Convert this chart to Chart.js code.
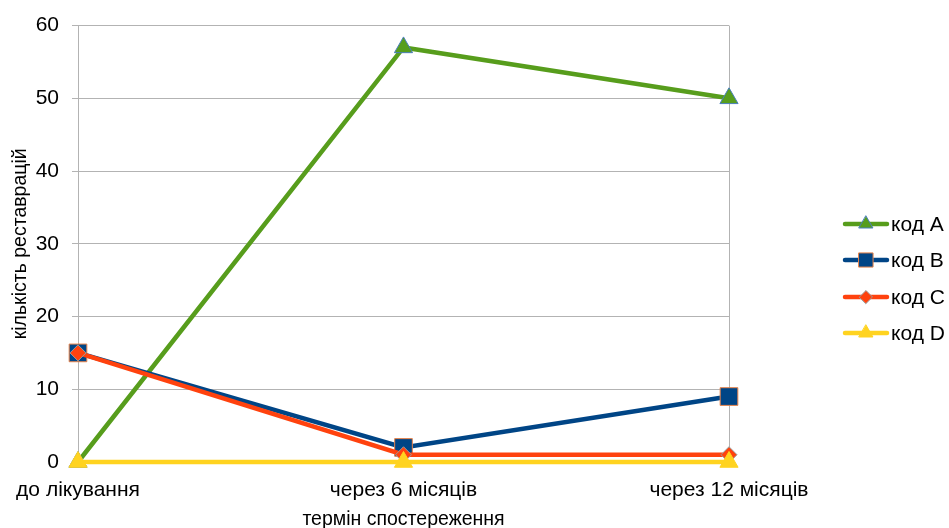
<!DOCTYPE html>
<html>
<head>
<meta charset="utf-8">
<script src="https://cdn.jsdelivr.net/npm/chart.js@4"></script>
<style>
  html, body { margin: 0; padding: 0; background: #fff; }
  #wrap { width: 949px; height: 528px; position: relative; }
</style>
</head>
<body>
<div id="wrap"><canvas id="c" width="949" height="528"></canvas></div>
<script>
// Observation periods
const periods = ['до лікування', 'через 6 місяців', 'через 12 місяців'];

// Number of restorations per code
const codeA = [0, 57, 50];
const codeB = [15, 2, 9];
const codeC = [15, 1, 1];
const codeD = [0, 0, 0];

const seriesNames = ['код A', 'код B', 'код C', 'код D'];

const yTitle = 'кількість реставрацій';
const xTitle = 'термін спостереження';

const FONT = "'Liberation Sans', Arial, sans-serif";

// Line and marker styling per series (radius in the plot, size in the legend)
const styles = [
  { line: '#579d1c', fill: '#579d1c', border: '#4a7ebb', shape: 'triangle', r: 10.5, lr: 8 },
  { line: '#004586', fill: '#004586', border: '#e8834a', shape: 'rect', r: 12.5, lr: 10 },
  { line: '#ff420e', fill: '#ff420e', border: '#9a9a9a', shape: 'rectRot', r: 8, lr: 6.5 },
  { line: '#ffd320', fill: '#ffd320', border: '#ffd320', shape: 'triangle', r: 10.5, lr: 8 }
];

const values = [codeA, codeB, codeC, codeD];

const datasets = values.map((v, i) => ({
  label: seriesNames[i],
  data: v,
  borderColor: styles[i].line,
  backgroundColor: styles[i].fill,
  borderWidth: 4.5,
  pointStyle: styles[i].shape,
  pointRadius: styles[i].r,
  pointHoverRadius: styles[i].r,
  pointBackgroundColor: styles[i].fill,
  pointBorderColor: styles[i].border,
  pointBorderWidth: 1,
  tension: 0,
  clip: false,
  order: 3 - i
}));

// Legend: a short line with the series marker in the middle, then the name
const sideLegend = {
  id: 'sideLegend',
  afterDraw(chart) {
    const ctx = chart.ctx;
    const x0 = 845, x1 = 887, tx = 891;
    const ys = [224, 260, 297, 333];
    chart.data.datasets.forEach((ds, i) => {
      const y = ys[i];
      const st = styles[i];
      ctx.save();
      ctx.strokeStyle = ds.borderColor;
      ctx.lineWidth = 4.5;
      ctx.lineCap = 'round';
      ctx.beginPath();
      ctx.moveTo(x0, y);
      ctx.lineTo(x1, y);
      ctx.stroke();
      ctx.fillStyle = ds.pointBackgroundColor;
      ctx.strokeStyle = ds.pointBorderColor;
      ctx.lineWidth = 1;
      Chart.helpers.drawPoint(ctx, {
        pointStyle: ds.pointStyle,
        radius: st.lr,
        rotation: 0,
        borderWidth: 1
      }, (x0 + x1) / 2, y);
      ctx.fillStyle = '#000';
      ctx.font = '21px ' + FONT;
      ctx.textBaseline = 'middle';
      ctx.textAlign = 'left';
      ctx.fillText(ds.label, tx, y + 1);
      ctx.restore();
    });
  }
};

new Chart(document.getElementById('c'), {
  type: 'line',
  data: { labels: periods, datasets },
  options: {
    responsive: false,
    animation: false,
    events: [],
    layout: { padding: { top: 23, right: 220, left: 0, bottom: 0 } },
    plugins: { legend: { display: false }, tooltip: { enabled: false } },
    scales: {
      x: {
        offset: false,
        grid: {
          drawTicks: false,
          color: ctx => (ctx.index === 0 || ctx.index === periods.length - 1) ? '#b3b3b3' : 'rgba(0,0,0,0)',
          lineWidth: 1
        },
        border: { display: true, color: '#b3b3b3' },
        ticks: { color: '#000', font: { family: FONT, size: 21 }, padding: 16, maxRotation: 0, autoSkip: false },
        title: { display: true, text: xTitle, color: '#000', font: { family: FONT, size: 19.5 }, padding: { top: 4, bottom: -3 } },
        afterFit: s => { s.height = 66; }
      },
      y: {
        min: 0, max: 60,
        ticks: { stepSize: 10, color: '#000', font: { family: FONT, size: 21 }, padding: 13 },
        grid: { color: '#b3b3b3', tickLength: 6, tickColor: '#b3b3b3' },
        border: { display: true, color: '#b3b3b3' },
        title: { display: true, text: yTitle, color: '#000', font: { family: FONT, size: 19.5 }, padding: { top: 9, bottom: 0 } },
        afterFit: s => { s.width = 78; }
      }
    }
  },
  plugins: [sideLegend]
});
</script>
</body>
</html>
